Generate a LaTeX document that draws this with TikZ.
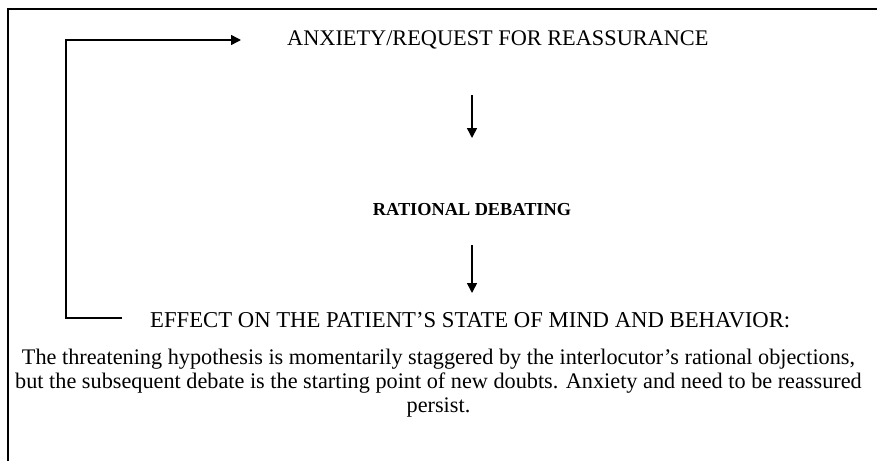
\documentclass[tikz,border=0pt]{standalone}
\usepackage{fontspec}
\setmainfont{Liberation Serif}
\usetikzlibrary{arrows.meta}
\begin{document}
\begin{tikzpicture}[x=1pt,y=-1pt,
  lbl/.style={inner sep=0pt, font=\fontsize{22.3}{26}\selectfont},
  para/.style={inner sep=0pt, align=center, font=\fontsize{22.25}{24}\selectfont},
  arr/.style={line width=1.5pt, -{Triangle[length=10pt,width=10pt]}},
  frame/.style={line width=1.5pt}]
\useasboundingbox (0,0) rectangle (877,461);
\draw[frame] (8,461) -- (8,9) -- (877,9);
\node[lbl, anchor=west] (anx) at (287,40) {ANXIETY/REQUEST FOR REASSURANCE};
\node[lbl, font=\fontsize{18.3}{22}\selectfont\bfseries] (rat) at (472,210) {RATIONAL DEBATING};
\node[lbl, anchor=west, font=\fontsize{22.7}{26}\selectfont] (eff) at (150,320) {EFFECT ON THE PATIENT’S STATE OF MIND AND BEHAVIOR:};
\node[para, anchor=north] (par) at (438.5,349) {The threatening hypothesis is momentarily staggered by the interlocutor’s rational objections,\\ but the subsequent debate is the starting point of new doubts. Anxiety and need to be reassured\\ persist.};
\coordinate (a1s) at (472,95);
\coordinate (a1e) at (472,138);
\coordinate (a2s) at (472,245);
\coordinate (a2e) at (472,293);
\draw[arr] (a1s) -- (a1e);
\draw[arr] (a2s) -- (a2e);
\coordinate (lb) at (122,318);
\coordinate (lt) at (241,40);
\draw[arr] (lb) -- (66,318) -- (66,40) -- (lt);
\end{tikzpicture}
\end{document}
